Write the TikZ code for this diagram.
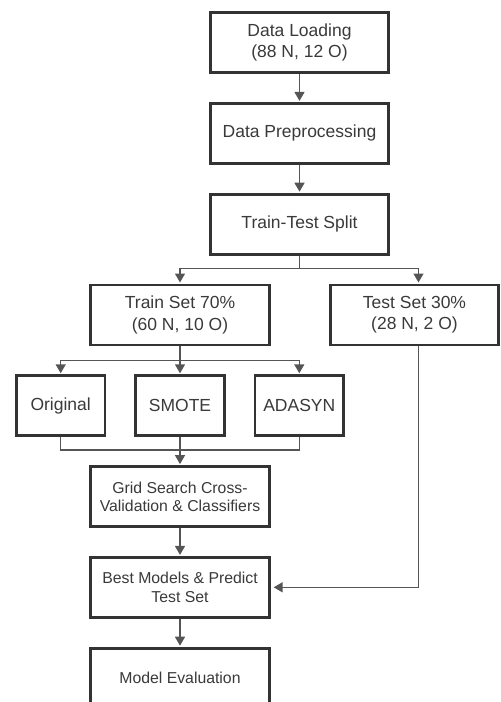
\documentclass[tikz,border=0pt]{standalone}
\usepackage{fontspec}
\setmainfont{Liberation Sans}
\usetikzlibrary{arrows.meta, positioning}

\definecolor{boxline}{HTML}{333333}
\definecolor{wire}{HTML}{555555}
\definecolor{ink}{HTML}{3A3A3A}

\begin{document}
\begin{tikzpicture}[x=1pt, y=1pt]
	\tikzset {node distance=28pt,
		box/.style={draw=boxline, line width=2.8pt, fill=white, text=ink, align=center, minimum width=178.5pt, minimum height=60pt, inner sep=2pt, font=\fontsize{17.5}{21.5}\selectfont},
		sbox/.style={box, minimum width=88.5pt},
		small/.style={font=\fontsize{15.8}{18.3}\selectfont},
		link/.style={draw=wire, line width=1.4pt},
		flow/.style={link, -{Triangle[length=9pt, width=10pt]}, shorten >=1pt} }

	\useasboundingbox (0,0) rectangle (501,-702);

	\node[box] (load) at (299.5,-42.5) {Data Loading\\(88 N, 12 O)};
	\node[box, below=of load] (prep) {Data Preprocessing};
	\node[box, below=of prep] (split) {Train-Test Split};
	\node[box, below=of split, xshift=-119.5pt] (train) {Train Set 70\%\\(60 N, 10 O)};
	\node[box, below=of split, xshift=115pt, minimum width=168.5pt] (test) {Test Set 30\%\\(28 N, 2 O)};
	\node[sbox, below=of train] (smote) {SMOTE};
	\node[sbox, left=28pt of smote] (orig) {Original};
	\node[sbox, right=28pt of smote] (adasyn) {ADASYN};
	\node[box, small, below=of smote] (grid) {Grid Search Cross-\\Validation \& Classifiers};
	\node[box, small, below=of grid] (best) {Best Models \& Predict\\Test Set};
	\node[box, small, below=of best] (eval) {Model Evaluation};

	\draw[flow] (load) -- (prep);
	\draw[flow] (prep) -- (split);
	\draw[flow] (split.south) -- ++(0,-13) -| (train.north);
	\draw[flow] (split.south) -- ++(0,-13) -| ([xshift=4pt]test.north);
	\draw[flow] (train.south) -- ++(0,-14) -| (orig.north);
	\draw[flow] (train.south) -- ++(0,-14) -| (smote.north);
	\draw[flow] (train.south) -- ++(0,-14) -| (adasyn.north);
	\draw[link] (orig.south) -- ++(0,-13) -| (adasyn.south);
	\draw[flow] (smote) -- (grid);
	\draw[flow] (grid) -- (best);
	\draw[flow] (best) -- (eval);
	\draw[flow] ([xshift=4pt]test.south) |- ([xshift=2pt]best.east);
\end{tikzpicture}
\end{document}
